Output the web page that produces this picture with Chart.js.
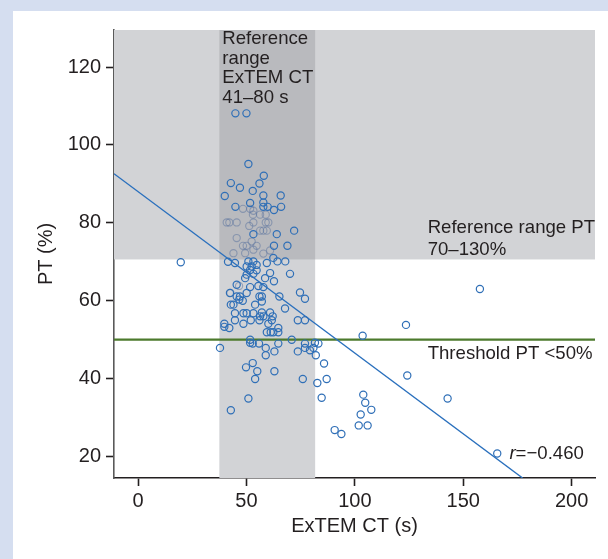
<!DOCTYPE html>
<html>
<head>
<meta charset="utf-8">
<script src="https://cdn.jsdelivr.net/npm/chart.js@4/dist/chart.umd.min.js"></script>
<style>
  body { margin: 0; background: #d5def0; width: 608px; height: 559px; overflow: hidden; }
  #panel { position: absolute; left: 13px; top: 11px; width: 595px; height: 548px; background: #fff; }
</style>
</head>
<body>
<div id="panel"><canvas id="myChart" width="595" height="548"></canvas></div>
<script>
  // ExTEM CT (s) vs PT (%)
  const ctX = [44.9, 50.0, 50.9, 58.0, 42.8, 47.0, 52.9, 56.0, 40.0, 57.8, 65.8, 51.7, 57.8, 44.9, 57.8, 59.8, 66.0, 62.7,
    72.0, 64.0, 53.2, 62.7, 68.9, 62.4, 64.3, 67.9, 41.5, 44.7, 50.9, 53.2, 50.1, 52.4, 54.7, 59.4, 70.1, 51.7, 54.7, 50.1,
    53.2, 49.4, 58.6, 60.9, 62.7, 45.5, 51.7, 55.5, 57.8, 74.7, 42.4, 47.0, 50.1, 57.1, 65.2, 77.0, 45.5, 46.7, 48.3, 56.0,
    42.8, 44.0, 54.0, 57.1, 67.8, 44.7, 48.6, 50.1, 53.2, 57.1, 60.9, 56.3, 57.8, 62.1, 44.7, 52.0, 56.0, 61.7, 73.7, 77.0,
    39.8, 39.8, 42.1, 48.6, 60.1, 64.7, 64.7, 59.4, 61.2, 62.4, 51.7, 51.7, 52.9, 37.8, 55.8, 70.9, 64.7, 77.0, 77.0, 80.9,
    81.6, 83.2, 58.9, 62.9, 58.9, 73.7, 79.3, 82.0, 52.9, 49.8, 55.0, 62.9, 54.0, 76.0, 82.7, 50.9, 42.8, 85.8, 87.0, 84.7,
    103.6, 123.6, 124.2, 157.7, 142.8, 165.7, 103.9, 104.8, 107.6, 102.7, 101.8, 105.9, 90.7, 93.8, 19.7];
  const ptY = [108.1, 108.1, 95.1, 92.1, 90.2, 89.0, 88.2, 90.1, 86.9, 87.0, 87.0, 85.1, 85.2, 84.1, 84.1, 84.1, 84.1, 83.3,
    78.0, 77.1, 77.1, 74.1, 74.1, 71.0, 70.1, 70.1, 70.0, 69.7, 70.1, 70.1, 68.8, 68.8, 69.2, 69.7, 66.9, 67.9, 67.8, 66.7,
    66.9, 65.8, 65.8, 67.1, 65.0, 64.1, 63.5, 63.8, 63.5, 62.1, 62.0, 61.1, 62.0, 61.1, 61.1, 60.5, 61.1, 60.3, 60.0, 61.1,
    59.0, 59.0, 59.0, 59.8, 58.0, 56.8, 56.8, 56.8, 56.8, 57.0, 57.0, 56.0, 56.0, 56.0, 55.0, 55.0, 55.0, 55.0, 55.0, 55.0,
    54.1, 53.3, 53.0, 54.1, 54.1, 53.0, 51.9, 51.9, 51.9, 51.9, 50.0, 49.2, 49.0, 47.9, 49.0, 50.0, 49.0, 49.0, 47.9, 47.9,
    49.2, 49.0, 47.9, 47.0, 46.0, 47.0, 47.3, 46.0, 44.0, 42.9, 41.9, 41.9, 39.9, 39.9, 38.9, 34.9, 31.9, 43.9, 39.9, 35.1,
    51.0, 53.8, 40.8, 63.0, 34.9, 20.8, 35.9, 33.8, 32.0, 30.8, 28.0, 28.0, 26.8, 25.8, 69.9];

  // overlapping points inside the reference band, drawn paler
  const fadeX = [48.4, 51.7, 53.2, 53.0, 56.3, 58.9, 40.9, 42.1, 45.5, 51.3, 53.2, 58.9, 60.1, 56.3, 57.8, 59.4, 45.5, 52.4,
    48.4, 50.1, 54.7, 44.0, 49.4, 53.2, 57.8, 60.9, 46.6, 42.6];
  const fadeY = [83.6, 83.6, 83.1, 82.1, 82.1, 82.1, 80.1, 80.1, 80.1, 79.2, 80.1, 80.1, 80.1, 78.0, 78.0, 78.0, 76.1, 75.2,
    74.1, 74.1, 74.1, 72.2, 72.2, 73.1, 72.1, 72.9, 63.8, 62.0];

  // regression line end points, threshold, reference ranges
  const fitX = [-11.1, 177.4];
  const fitY = [92.6, 14.5];
  const threshold = 50;
  const refPT = [70.6, 130];
  const refCT = [37.5, 81.7];

  const xTicks = [0, 50, 100, 150, 200];
  const yTicks = [20, 40, 60, 80, 100, 120];
  const xRange = [-11.1, 210.8];
  const yRange = [14.5, 129.5];

  const FONT = '"Liberation Sans", Arial, Helvetica, sans-serif';

  function toPts(xs, ys) {
    return xs.map((x, i) => ({ x: x, y: ys[i] }));
  }

  const shading = {
    id: 'shading',
    beforeDatasetsDraw(chart) {
      const { ctx, chartArea: a, scales: { x, y } } = chart;
      const yTop = y.getPixelForValue(refPT[1]);
      const yBot = y.getPixelForValue(refPT[0]);
      const x0 = x.getPixelForValue(refCT[0]);
      const x1 = x.getPixelForValue(refCT[1]);
      ctx.save();
      ctx.beginPath();
      ctx.rect(a.left, a.top, a.right - a.left, a.bottom - a.top);
      ctx.clip();
      ctx.fillStyle = '#d2d3d6';
      ctx.fillRect(a.left, yTop, a.right - a.left, yBot - yTop);
      ctx.fillRect(x0, a.top, x1 - x0, a.bottom - a.top);
      ctx.fillStyle = '#b9babe';
      ctx.fillRect(x0, yTop, x1 - x0, yBot - yTop);
      ctx.restore();
    }
  };

  const notes = {
    id: 'notes',
    afterDraw(chart) {
      const { ctx, chartArea: a, scales: { x, y } } = chart;
      ctx.save();
      ctx.fillStyle = '#231f20';
      ctx.textBaseline = 'middle';
      ctx.font = '18.6px ' + FONT;
      const bx = x.getPixelForValue(refCT[0]) + 3;
      ['Reference', 'range', 'ExTEM CT', '41–80 s'].forEach((t, i) => {
        ctx.fillText(t, bx, a.top + 9 + i * 19.5);
      });
      const rx = x.getPixelForValue(133.6);
      ctx.fillText('Reference range PT', rx, y.getPixelForValue(78.7));
      ctx.fillText('70–130%', rx, y.getPixelForValue(73.1));
      ctx.fillText('Threshold PT <50%', rx, y.getPixelForValue(46.4));
      const lx = x.getPixelForValue(171.3);
      const ly = y.getPixelForValue(20.8);
      ctx.font = 'italic 18.6px ' + FONT;
      ctx.fillText('r', lx, ly);
      const w = ctx.measureText('r').width;
      ctx.font = '18.6px ' + FONT;
      ctx.fillText('=−0.460', lx + w, ly);
      ctx.restore();
    }
  };

  const data = {
    datasets: [
      {
        type: 'line',
        data: toPts(xRange, [threshold, threshold]),
        borderColor: '#4c7a2d',
        borderWidth: 2.2,
        pointRadius: 0,
        order: 3
      },
      {
        type: 'line',
        data: toPts(fitX, fitY),
        borderColor: '#2a70bd',
        borderWidth: 1.4,
        pointRadius: 0,
        order: 2
      },
      {
        data: toPts(fadeX, fadeY),
        pointRadius: 3.6,
        borderWidth: 1.1,
        borderColor: 'rgba(95,118,160,0.55)',
        backgroundColor: 'transparent',
        order: 1
      },
      {
        data: toPts(ctX, ptY),
        pointRadius: 3.6,
        borderWidth: 1.2,
        borderColor: '#2f6fb7',
        backgroundColor: 'transparent',
        order: 0
      }
    ]
  };

  const config = {
    type: 'scatter',
    data: data,
    options: {
      responsive: false,
      animation: false,
      layout: { padding: { top: 19, right: 13, left: 0, bottom: 0 } },
      plugins: { legend: { display: false }, tooltip: { enabled: false } },
      scales: {
        x: {
          type: 'linear',
          min: xRange[0],
          max: xRange[1],
          afterBuildTicks: s => { s.ticks = xTicks.map(v => ({ value: v })); },
          afterFit: s => { s.height = 81; },
          border: { color: '#231f20', width: 1.6 },
          grid: { drawOnChartArea: false, tickLength: 8, tickWidth: 1.6, color: '#231f20' },
          ticks: { color: '#231f20', padding: 3, font: { family: FONT, size: 20 } },
          title: { display: true, text: 'ExTEM CT (s)', color: '#231f20', padding: { top: 2, bottom: 21 }, font: { family: FONT, size: 20 } }
        },
        y: {
          type: 'linear',
          min: yRange[0],
          max: yRange[1],
          afterBuildTicks: s => { s.ticks = yTicks.map(v => ({ value: v })); },
          afterFit: s => { s.width = 101; },
          border: { color: '#5a5a5a', width: 1.6 },
          grid: { drawOnChartArea: false, tickLength: 8, tickWidth: 1.6, color: '#231f20' },
          ticks: { color: '#231f20', padding: 5, font: { family: FONT, size: 20 } },
          title: { display: true, text: 'PT (%)', color: '#231f20', padding: { top: 21, bottom: 4 }, font: { family: FONT, size: 20 } }
        }
      }
    },
    plugins: [shading, notes]
  };

  const myChart = new Chart(document.getElementById('myChart'), config);
</script>
</body>
</html>
